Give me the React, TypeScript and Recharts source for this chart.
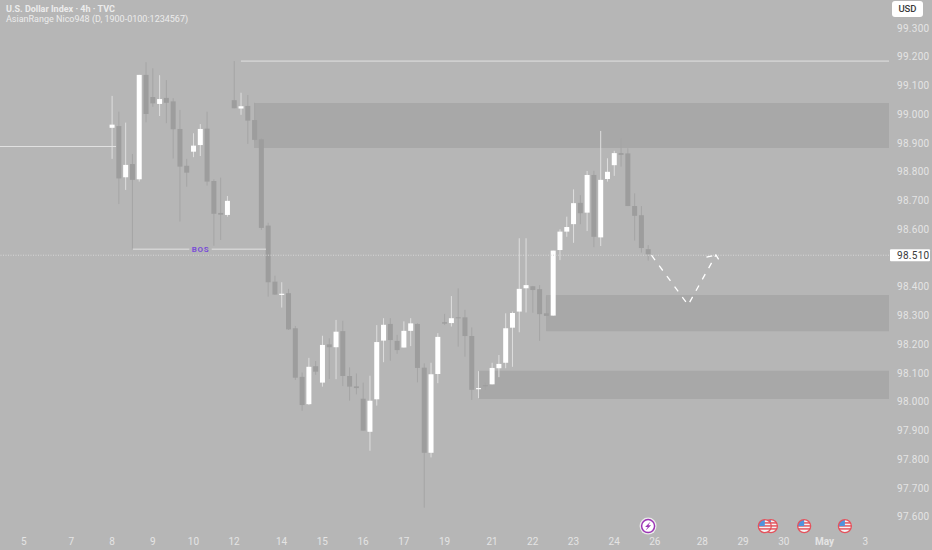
import React from 'react';
import {
  Bar,
  ComposedChart,
  Line,
  ReferenceArea,
  ReferenceDot,
  ReferenceLine,
  XAxis,
  YAxis,
} from 'recharts';

const CHART_W = 932;
const CHART_H = 550;
const SLOT_COUNT = 131;
const FIRST_CANDLE_SLOT = 16;

// Cores
const bgColor = '#b6b6b6';
const zoneColor = '#a8a8a8';
const upColor = '#ffffff';
const downColor = '#9d9d9d';
const upWick = '#dedede';
const downWick = '#a5a5a5';
const lineColor = '#e2e2e2';
const axisText = '#e4e4e4';

// Candles 4h
const opens = [98.953, 98.959, 98.781, 98.827, 98.774, 99.137, 99.06, 99.036, 99.057, 99.045, 98.949, 98.821, 98.87, 98.893, 98.95, 98.768, 98.657, 98.65, 99.049, 99.02, 99.029, 98.98, 98.913, 98.613, 98.418, 98.372, 98.378, 98.256, 98.087, 97.992, 98.124, 98.067, 98.2, 98.19, 98.246, 98.09, 98.054, 98.011, 97.896, 98.009, 98.213, 98.271, 98.212, 98.189, 98.247, 98.271, 98.119, 97.823, 98.097, 98.277, 98.274, 98.294, 98.294, 98.229, 98.044, 98.058, 98.061, 98.117, 98.136, 98.258, 98.314, 98.395, 98.402, 98.392, 98.308, 98.3, 98.528, 98.592, 98.618, 98.692, 98.658, 98.789, 98.572, 98.775, 98.823, 98.865, 98.864, 98.681, 98.649, 98.531];
const highs = [99.064, 99.009, 98.971, 98.862, 99.137, 99.181, 99.16, 99.136, 99.119, 99.056, 99.015, 98.845, 98.934, 98.966, 99.009, 98.774, 98.78, 98.716, 99.185, 99.075, 99.067, 99.04, 98.917, 98.623, 98.439, 98.416, 98.393, 98.264, 98.102, 98.153, 98.142, 98.23, 98.221, 98.285, 98.282, 98.12, 98.099, 98.067, 98.091, 98.267, 98.291, 98.291, 98.233, 98.28, 98.291, 98.273, 98.134, 98.136, 98.239, 98.306, 98.368, 98.395, 98.32, 98.259, 98.107, 98.067, 98.136, 98.163, 98.308, 98.314, 98.569, 98.569, 98.403, 98.406, 98.366, 98.526, 98.6, 98.644, 98.739, 98.719, 98.803, 98.804, 98.942, 98.847, 98.873, 98.917, 98.882, 98.725, 98.681, 98.545];
const lows = [98.845, 98.688, 98.737, 98.528, 98.766, 98.972, 99.026, 98.994, 98.969, 98.846, 98.627, 98.748, 98.851, 98.855, 98.752, 98.543, 98.563, 98.644, 99.021, 98.998, 98.897, 98.907, 98.598, 98.366, 98.372, 98.328, 98.25, 98.076, 97.969, 97.989, 98.094, 98.053, 98.08, 98.079, 98.055, 98.004, 98.026, 97.9, 97.83, 97.987, 98.138, 98.143, 98.167, 98.189, 98.194, 98.068, 97.632, 97.807, 98.065, 98.267, 98.262, 98.192, 98.157, 98.007, 98.013, 98.041, 98.061, 98.086, 98.117, 98.122, 98.242, 98.311, 98.31, 98.212, 98.299, 98.3, 98.493, 98.574, 98.553, 98.618, 98.594, 98.538, 98.542, 98.766, 98.786, 98.818, 98.681, 98.561, 98.519, 98.491];
const closes = [98.964, 98.777, 98.824, 98.772, 99.137, 99.001, 99.038, 99.053, 99.04, 98.948, 98.818, 98.797, 98.891, 98.949, 98.766, 98.654, 98.651, 98.699, 99.021, 99.028, 98.978, 98.911, 98.605, 98.416, 98.373, 98.376, 98.252, 98.084, 97.989, 98.122, 98.105, 98.198, 98.19, 98.244, 98.09, 98.053, 98.048, 97.9, 98.004, 98.208, 98.268, 98.215, 98.18, 98.247, 98.273, 98.118, 97.823, 98.096, 98.226, 98.272, 98.291, 98.291, 98.229, 98.042, 98.048, 98.054, 98.118, 98.132, 98.256, 98.309, 98.393, 98.406, 98.389, 98.305, 98.299, 98.526, 98.592, 98.608, 98.691, 98.656, 98.789, 98.574, 98.772, 98.8, 98.865, 98.859, 98.681, 98.647, 98.535, 98.513];

// Eixos
const priceTicks = [99.3, 99.2, 99.1, 99.0, 98.9, 98.8, 98.7, 98.6, 98.51, 98.4, 98.3, 98.2, 98.1, 98.0, 97.9, 97.8, 97.7, 97.6];
const lastPrice = 98.51;
const timeSlots = [3, 10, 16, 22, 28, 34, 41, 47, 53, 59, 65, 72, 78, 84, 90, 96, 103, 109, 115, 121, 127];
const timeLabels = ['5', '7', '8', '9', '10', '12', '14', '15', '16', '17', '19', '21', '22', '23', '24', '26', '28', '29', '30', 'May', '3'];

// Zonas e linhas (slot, preço)
const zones = [
  { from: 36.93, top: 99.039, bottom: 98.883 },
  { from: 79.96, top: 98.372, bottom: 98.246 },
  { from: 70.1, top: 98.108, bottom: 98.01 },
];
const levels = [
  { from: -0.5, to: 16.6, price: 98.888 },
  { from: 35, to: 130.5, price: 99.185 },
  { from: 19.05, to: 27.4, price: 98.531 },
  { from: 30.7, to: 38.7, price: 98.531 },
];
const projection = [
  { slot: 95.5, price: 98.51 },
  { slot: 100.9, price: 98.337 },
  { slot: 105, price: 98.511 },
];
const arrowHead = [
  { slot: 103.6, price: 98.503 },
  { slot: 105, price: 98.511 },
  { slot: 105.6, price: 98.487 },
];
const flagSlots = [113.1, 112.2, 118, 124];
const boltSlot = 95;
const iconPrice = 97.568;

const rows = Array.from({ length: SLOT_COUNT }, (_, slot) => {
  const i = slot - FIRST_CANDLE_SLOT;
  if (i < 0 || i >= opens.length) return { slot, range: null };
  return { slot, range: [lows[i], highs[i]], open: opens[i], close: closes[i] };
});

const Candle = (props: any) => {
  const { x, y, width, height, payload } = props;
  if (!payload?.range) return null;
  const [low, high] = payload.range;
  const top = Math.min(y, y + height);
  const h = Math.abs(height);
  const toY = (p: number) => top + (h * (high - p)) / (high - low);
  const isUp = payload.close >= payload.open;
  const bodyTop = toY(Math.max(payload.open, payload.close));
  const bodyBottom = toY(Math.min(payload.open, payload.close));
  const cx = x + width / 2;
  return (
    <g>
      <rect x={cx - 0.5} y={top} width={1} height={h} fill={isUp ? upWick : downWick} />
      <rect
        x={x}
        y={bodyTop}
        width={width}
        height={Math.max(bodyBottom - bodyTop, 1)}
        fill={isUp ? upColor : downColor}
      />
    </g>
  );
};

const PriceTick = ({ x, y, payload }: any) => {
  const isLast = payload.value === lastPrice;
  return (
    <g>
      {isLast && <rect x={x - 7} y={y - 6} width={40} height={12} rx={1} fill="#ffffff" />}
      <text
        x={x}
        y={y + 3.5}
        fontFamily="Roboto, sans-serif"
        fontSize={10}
        letterSpacing={0.3}
        fill={isLast ? '#3a3a3a' : axisText}
      >
        {payload.value.toFixed(3)}
      </text>
    </g>
  );
};

const TimeTick = ({ x, payload }: any) => {
  const label = timeLabels[timeSlots.indexOf(payload.value)];
  return (
    <text
      x={x}
      y={545}
      textAnchor="middle"
      fontFamily="Roboto, sans-serif"
      fontSize={10}
      fontWeight={label === 'May' ? 700 : 400}
      fill={axisText}
    >
      {label}
    </text>
  );
};

const FlagIcon = ({ cx, cy, id }: any) => (
  <g>
    <clipPath id={id}>
      <circle cx={cx} cy={cy} r={6.5} />
    </clipPath>
    <g clipPath={`url(#${id})`}>
      <rect x={cx - 7} y={cy - 7} width={14} height={14} fill="#f4f4f4" />
      <rect x={cx - 7} y={cy - 4} width={14} height={1.6} fill="#e4626a" />
      <rect x={cx - 7} y={cy - 1} width={14} height={1.6} fill="#e4626a" />
      <rect x={cx - 7} y={cy + 2} width={14} height={1.6} fill="#e4626a" />
      <rect x={cx - 7} y={cy - 7} width={7} height={7} fill="#4f93dc" />
    </g>
    <circle cx={cx} cy={cy} r={6.5} fill="none" stroke="#e4525c" strokeWidth={1.3} />
  </g>
);

const BoltIcon = ({ cx, cy }: any) => (
  <g>
    <circle cx={cx} cy={cy} r={8.5} fill="#ececec" />
    <circle cx={cx} cy={cy} r={6.5} fill="#ffffff" stroke="#9c35b5" strokeWidth={1.5} />
    <path
      d={`M${cx + 2.5} ${cy - 4.5}L${cx - 3} ${cy + 0.8}H${cx - 0.3}L${cx - 2.5} ${cy + 4.5}L${cx + 3} ${cy - 0.8}H${cx + 0.3}Z`}
      fill="#9c35b5"
    />
  </g>
);

export default function App() {
  return (
    <div style={{ position: 'absolute', left: 0, top: 0, width: CHART_W, height: CHART_H, background: bgColor, overflow: 'hidden' }}>
      <ComposedChart
        width={CHART_W}
        height={CHART_H}
        data={rows}
        margin={{ top: 0, right: 0, bottom: 0, left: 0 }}
        barCategoryGap={0}
      >
        <XAxis
          dataKey="slot"
          ticks={timeSlots}
          interval={0}
          height={20}
          tickLine={false}
          axisLine={false}
          tick={<TimeTick />}
        />
        <XAxis xAxisId="t" dataKey="slot" type="number" domain={[-0.5, 130.5]} allowDataOverflow hide />
        <YAxis
          orientation="right"
          width={43}
          domain={[97.5545, 99.3974]}
          ticks={priceTicks}
          interval={0}
          tickLine={false}
          axisLine={false}
          tick={<PriceTick />}
        />
        {zones.map((z) => (
          <ReferenceArea
            key={z.from}
            xAxisId="t"
            x1={z.from}
            x2={130.5}
            y1={z.bottom}
            y2={z.top}
            fill={zoneColor}
            fillOpacity={1}
            stroke="none"
          />
        ))}
        <ReferenceLine y={lastPrice} stroke="#d6d6d6" strokeDasharray="1 1.5" />
        {levels.map((l) => (
          <ReferenceLine
            key={l.from}
            xAxisId="t"
            segment={[{ x: l.from, y: l.price }, { x: l.to, y: l.price }]}
            stroke={lineColor}
            strokeWidth={1}
          />
        ))}
        <ReferenceDot
          xAxisId="t"
          x={29.05}
          y={98.531}
          r={0}
          label={{ value: 'BOS', fill: '#7a4fd6', fontSize: 8, fontWeight: 700, letterSpacing: 0.6, fontFamily: 'Roboto, sans-serif' }}
        />
        <Bar dataKey="range" barSize={5} isAnimationActive={false} shape={<Candle />} />
        <Line
          xAxisId="t"
          data={projection}
          dataKey="price"
          type="linear"
          dot={false}
          activeDot={false}
          stroke="#ffffff"
          strokeWidth={1.3}
          strokeDasharray="6 7"
          isAnimationActive={false}
        />
        <Line
          xAxisId="t"
          data={arrowHead}
          dataKey="price"
          type="linear"
          dot={false}
          activeDot={false}
          stroke="#ffffff"
          strokeWidth={1.3}
          strokeDasharray="6 3"
          isAnimationActive={false}
        />
        <ReferenceDot xAxisId="t" x={boltSlot} y={iconPrice} shape={<BoltIcon />} />
        {flagSlots.map((s) => (
          <ReferenceDot key={s} xAxisId="t" x={s} y={iconPrice} shape={<FlagIcon id={`flag-${s}`} />} />
        ))}
      </ComposedChart>
      <div style={{ position: 'absolute', left: 6, top: 4, fontFamily: 'Roboto, sans-serif', fontSize: 9, lineHeight: '10px', color: '#ececec' }}>
        <div style={{ fontWeight: 700 }}>U.S. Dollar Index · 4h · TVC</div>
        <div>AsianRange Nico948 (D, 1900-0100:1234567)</div>
      </div>
      <div style={{ position: 'absolute', left: 892, top: 1, width: 31, height: 16, borderRadius: 3, background: '#ffffff', color: '#3a3a3a', fontFamily: 'Roboto, sans-serif', fontSize: 9.5, fontWeight: 500, lineHeight: '16px', textAlign: 'center' }}>
        USD
      </div>
    </div>
  );
}
